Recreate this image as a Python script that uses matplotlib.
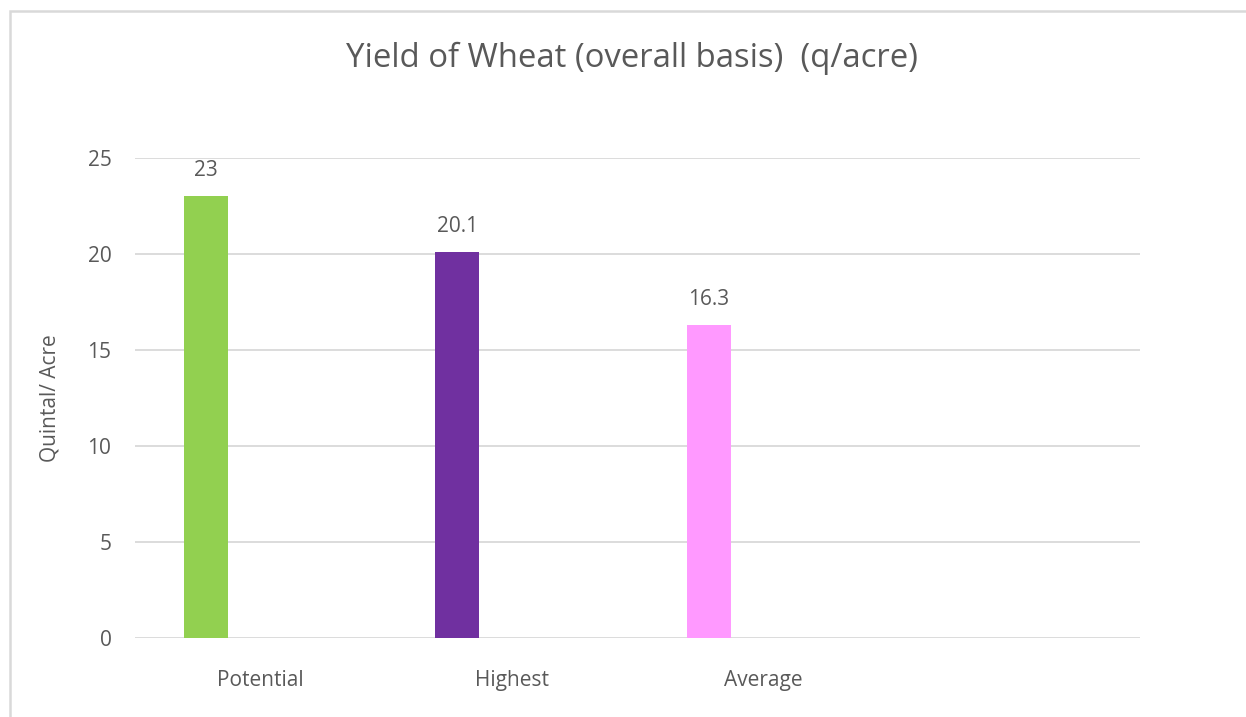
import matplotlib
matplotlib.use("Agg")
import matplotlib.pyplot as plt
from matplotlib.patches import Rectangle

categories = ["Potential", "Highest", "Average", ""]
values = [23, 20.1, 16.3]
value_labels = ["23", "20.1", "16.3"]
bar_colors = ["#92D050", "#7030A0", "#FF99FF"]
yticks = [0, 5, 10, 15, 20, 25]
title = "Yield of Wheat (overall basis)  (q/acre)"
ylabel = "Quintal/ Acre"

plt.rcParams['font.family'] = ['Open Sans', 'DejaVu Sans']
txt = "#595959"
grid = "#D9D9D9"

W, H = 1246, 717
fig = plt.figure(figsize=(W / 100, H / 100), dpi=100)
fig.patch.set_facecolor("white")

# chart border (only top and left visible)
fig.add_artist(Rectangle((10 / W, -0.1), 1.2, (H - 11) / H + 0.1, transform=fig.transFigure,
                         fill=False, edgecolor=grid, linewidth=1.8))

ax = fig.add_axes([135 / W, 1 - 638 / H, (1140 - 135) / W, (638 - 158) / H])
x = list(range(len(categories)))
offset = -0.2173
bw = 0.175
bx = [i + offset for i in range(len(values))]
ax.bar(bx, values, width=bw, color=bar_colors, zorder=3)
for xi, v, lab in zip(bx, values, value_labels):
    ax.annotate(lab, (xi, v), xytext=(0, 11), textcoords="offset points",
                ha="center", va="bottom", fontsize=15, color=txt)

ax.set_xlim(-0.5, len(categories) - 0.5)
ax.set_ylim(0, 25)
ax.set_yticks(yticks)
ax.set_yticklabels([str(t) for t in yticks])
ax.set_xticks(x)
ax.set_xticklabels(categories)
ax.tick_params(axis="both", length=0, labelsize=15, labelcolor=txt)
ax.tick_params(axis="y", pad=17)
ax.tick_params(axis="x", pad=23)
ax.grid(axis="y", color=grid, linewidth=1.3, zorder=0)
for s in ["top", "right", "left", "bottom"]:
    ax.spines[s].set_visible(False)

fig.text(50 / W, 1 - 398 / H, ylabel, rotation=90, ha="center", va="center",
         fontsize=15, color=txt)
fig.text(632 / W, 1 - 58 / H, title, ha="center", va="center", fontsize=23.7, color=txt)

fig.savefig("out.png", dpi=100, facecolor="white")
